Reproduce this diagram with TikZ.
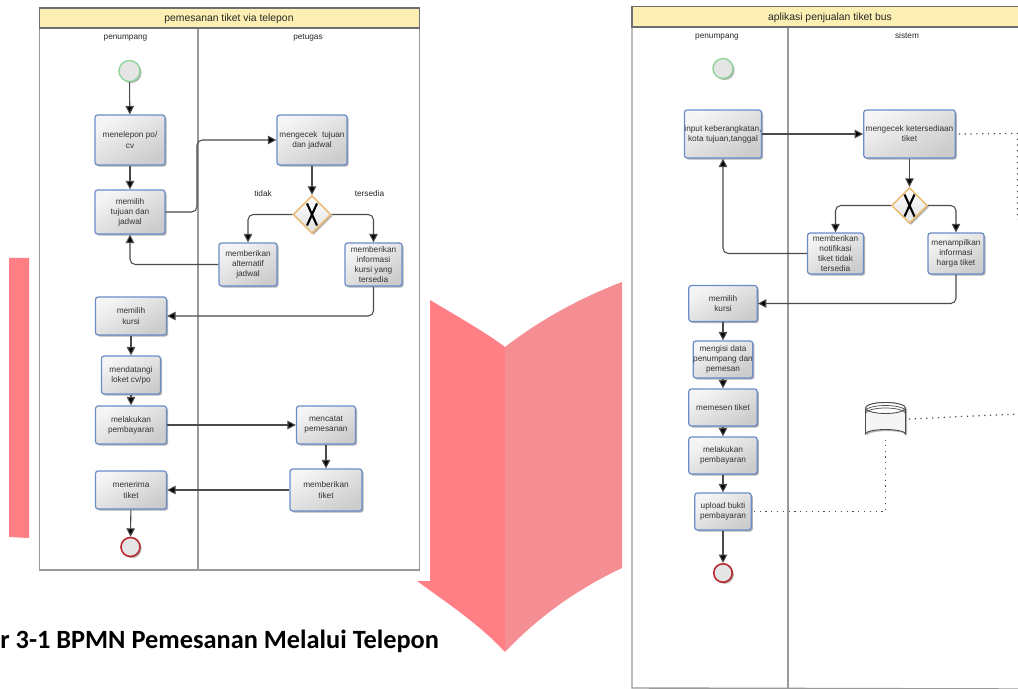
\documentclass[tikz,border=0pt]{standalone}
\usepackage{fontspec}
\setmainfont{Liberation Sans}
\newfontfamily\captionfont{Carlito}
\usetikzlibrary{arrows.meta,shapes.geometric,shadows}
\definecolor{bandyellow}{HTML}{FCEFB4}
\definecolor{lanegray}{HTML}{9A9A9A}
\definecolor{taskblue}{HTML}{6C8CC9}
\definecolor{gateorange}{HTML}{E9B86C}
\definecolor{startgreen}{HTML}{8FD49A}
\definecolor{endred}{HTML}{B8282C}
\definecolor{flowgray}{HTML}{4A4A4A}
\definecolor{pinkleft}{HTML}{FF7F85}
\definecolor{pinkright}{HTML}{F58E92}
\tikzset{
	lane/.style = {draw = lanegray, line width = 0.8pt},
	band/.style = {draw = flowgray!80, fill = bandyellow, line width = 0.6pt},
	heading/.style = {font = \fontsize{5.9}{7}\selectfont, text = black!85, inner sep = 0},
	lanename/.style = {font = \fontsize{4.7}{6}\selectfont, text = black!85, inner sep = 0, text height = 3.5pt, text depth = 1pt},
	softshadow/.style = {drop shadow = {shadow xshift = 0.9pt, shadow yshift = -0.9pt, opacity = 0.3, fill = black}},
	taskbox/.style = {draw = taskblue, line width = 0.7pt, rounded corners = 1.5pt, top color = white!96!black, bottom color = black!20, shading angle = 30, softshadow, align = center, inner sep = 0, text = black!80, font = \fontsize{4.7}{5.75}\selectfont},
	gate/.style = {diamond, draw = gateorange, line width = 0.8pt, top color = white, bottom color = black!12, softshadow, inner sep = 0, minimum width = 0.76cm, minimum height = 0.76cm},
	startevent/.style = {circle, draw = startgreen, line width = 0.8pt, fill = black!10, softshadow, inner sep = 0},
	endevent/.style = {circle, draw = endred, line width = 0.9pt, fill = black!10, softshadow, inner sep = 0},
	flow/.style = {draw = flowgray, line width = 0.6pt, rounded corners = 3pt, -{Triangle[length = 4.8pt, width = 4.8pt, fill = black]}},
	assoc/.style = {draw = black!70, line width = 0.7pt, dash pattern = on 0.7pt off 2.6pt},
	marker/.style = {line width = 1.2pt, black}
}
\begin{document}
\begin{tikzpicture}[x = 0.02cm, y = -0.02cm]
	\useasboundingbox (0, 0) rectangle (1018, 689);
	% pink book behind the figures
	\fill[pinkleft] (9, 258) -- (29, 258) -- (29, 538) -- (9, 537) -- cycle;
	\fill[pinkleft] (430, 300) .. controls (460, 318) and (485, 332) .. (505, 347) -- (505, 652) .. controls (480, 625) and (450, 605) .. (417, 581) -- cycle;
	\fill[pinkright] (505, 347) .. controls (540, 320) and (580, 298) .. (622, 282) -- (622, 568) .. controls (575, 590) and (535, 620) .. (505, 652) -- cycle;
	\fill[white] (30, 0) rectangle (430, 581);

	% first figure
	\draw[lane] (39.5, 8) rectangle (419.5, 570);
	\draw[lane] (198, 28) -- (198, 570);
	\draw[band] (39.5, 8) rectangle (419.5, 28);
	\node[heading] (titleA) at (229, 19) {pemesanan tiket via telepon};
	\node[lanename] (laneAa) at (125.5, 37.5) {penumpang};
	\node[lanename] (laneAb) at (308, 37.5) {petugas};
	\node[lanename] (tidak) at (263, 194.5) {tidak};
	\node[lanename] (tersedia) at (369.5, 194.5) {tersedia};

	\node[startevent, minimum size = 0.42cm] (startA) at (129.5, 71) {};
	\node[taskbox, minimum width = 1.4cm, minimum height = 1cm] (telepon) at (130, 140) {menelepon po/\\cv};
	\node[taskbox, minimum width = 1.4cm, minimum height = 0.88cm] (tujuan) at (130, 212) {memilih\\tujuan dan\\jadwal};
	\node[taskbox, minimum width = 1.4cm, minimum height = 1cm] (cekA) at (312, 140) {mengecek\ \ tujuan\\dan jadwal};
	\node[gate] (gateA) at (312, 214.5) {};
	\node[taskbox, minimum width = 1.16cm, minimum height = 0.86cm] (alternatif) at (248, 264.5) {memberikan\\alternatif\\jadwal};
	\node[taskbox, minimum width = 1.14cm, minimum height = 0.86cm] (informasi) at (373.5, 264.5) {memberikan\\informasi\\kursi yang\\tersedia};
	\node[taskbox, minimum width = 1.42cm, minimum height = 0.76cm] (kursiA) at (131, 316) {memilih\\kursi};
	\node[taskbox, minimum width = 1.18cm, minimum height = 0.76cm] (loket) at (131, 375) {mendatangi\\loket cv/po};
	\node[taskbox, minimum width = 1.42cm, minimum height = 0.76cm] (bayarA) at (131, 425) {melakukan\\pembayaran};
	\node[taskbox, minimum width = 1.18cm, minimum height = 0.76cm] (catat) at (326, 425) {mencatat\\pemesanan};
	\node[taskbox, minimum width = 1.44cm, minimum height = 0.84cm] (beriTiket) at (326, 490) {memberikan\\tiket};
	\node[taskbox, minimum width = 1.42cm, minimum height = 0.76cm] (terima) at (131, 490) {menerima\\tiket};
	\node[endevent, minimum size = 0.38cm] (endA) at (130.5, 547) {};
	\coordinate (bendA) at (197, 140);

	\draw[flow] (startA) -- (telepon);
	\draw[flow] (telepon) -- (tujuan);
	\draw[flow] (tujuan.east) -| (bendA) -- (cekA.west);
	\draw[flow] (cekA) -- (gateA);
	\draw[flow] (gateA.west) -| (alternatif.north);
	\draw[flow] (gateA.east) -| (informasi.north);
	\draw[flow] (alternatif.west) -| (tujuan.south);
	\draw[flow] (informasi.south) |- (kursiA.east);
	\draw[flow] (kursiA) -- (loket);
	\draw[flow] (loket) -- (bayarA);
	\draw[flow] (bayarA) -- (catat);
	\draw[flow] (catat) -- (beriTiket);
	\draw[flow] (beriTiket) -- (terima);
	\draw[flow] (terima) -- (endA);
	\draw[marker] (gateA) +(-5, -11) -- +(5, 11) +(5, -11) -- +(-5, 11);

	\node[font = \captionfont\bfseries\fontsize{15}{18}\selectfont, inner sep = 0, anchor = base west] (captionA) at (0, 648) {r 3-1 BPMN Pemesanan Melalui Telepon};

	% second figure
	\draw[lane] (1018, 689) -- (632, 688) -- (632, 7) -- (1018, 7);
	\draw[lane] (788, 27) -- (788, 689);
	\draw[band] (1019, 7) -- (632, 7) -- (632, 27) -- (1019, 27);
	\fill[bandyellow] (632.5, 7.5) rectangle (1018, 26.5);
	\node[heading] (titleB) at (830, 18) {aplikasi penjualan tiket bus};
	\node[lanename] (laneBa) at (717, 36) {penumpang};
	\node[lanename] (laneBb) at (907, 36) {sistem};

	\node[startevent, minimum size = 0.4cm] (startB) at (723, 68.5) {};
	\node[taskbox, minimum width = 1.37cm, minimum height = 0.96cm] (input) at (723, 134) {input keberangkatan,\\kota tujuan,tanggal};
	\node[taskbox, minimum width = 1.83cm, minimum height = 0.96cm] (cekB) at (909.5, 134) {mengecek ketersediaan\\tiket};
	\node[gate, minimum width = 0.72cm, minimum height = 0.72cm] (gateB) at (909.5, 205.5) {};
	\node[taskbox, minimum width = 1.12cm, minimum height = 0.82cm] (notif) at (835.5, 253.5) {memberikan\\notifikasi\\tiket tidak\\tersedia};
	\node[taskbox, minimum width = 1.12cm, minimum height = 0.82cm] (harga) at (956, 253.5) {menampilkan\\informasi\\harga tiket};
	\node[taskbox, minimum width = 1.37cm, minimum height = 0.72cm] (kursiB) at (723, 303.5) {memilih\\kursi};
	\node[taskbox, minimum width = 1.13cm, minimum height = 0.74cm] (data) at (723, 359.5) {mengisi data\\penumpang dan\\pemesan};
	\node[taskbox, minimum width = 1.37cm, minimum height = 0.74cm] (pesan) at (723, 407.5) {memesen tiket};
	\node[taskbox, minimum width = 1.37cm, minimum height = 0.74cm] (bayarB) at (723, 455.5) {melakukan\\pembayaran};
	\node[taskbox, minimum width = 1.13cm, minimum height = 0.74cm] (upload) at (723, 511.5) {upload bukti\\pembayaran};
	\node[endevent, minimum size = 0.37cm] (endB) at (723, 573) {};
	\node[minimum width = 0.8cm, minimum height = 0.73cm, inner sep = 0] (dbase) at (885.5, 421) {};
	\coordinate (cornerA) at (1017.5, 133.5);
	\coordinate (cornerB) at (1017.5, 220);
	\coordinate (cornerC) at (1017.5, 414);

	\draw[flow] (input) -- (cekB);
	\draw[flow] (cekB) -- (gateB);
	\draw[flow] (gateB.west) -| (notif.north);
	\draw[flow] (gateB.east) -| (harga.north);
	\draw[flow] (notif.west) -| (input.south);
	\draw[flow] (harga.south) |- (kursiB.east);
	\draw[flow] (kursiB) -- (data);
	\draw[flow] (data) -- (pesan);
	\draw[flow] (pesan) -- (bayarB);
	\draw[flow] (bayarB) -- (upload);
	\draw[flow] (upload) -- (endB);
	\draw[marker] (gateB) +(-5, -11) -- +(5, 11) +(5, -11) -- +(-5, 11);

	% data store
	\draw[fill = white!96!black, draw = black!70, line width = 0.5pt, softshadow] (865.5, 408) -- (865.5, 434) arc[start angle = 180, end angle = 360, x radius = 20, y radius = 4.5] -- (905.5, 408) arc[start angle = 0, end angle = -180, x radius = 20, y radius = 5.5] -- cycle;
	\draw[fill = white, draw = black!70, line width = 0.5pt] (885.5, 408) ellipse [x radius = 20, y radius = 5.5];
	\draw[draw = black!70, line width = 0.4pt] (865.5, 411) arc[start angle = 180, end angle = 360, x radius = 20, y radius = 5.5];
	\draw[draw = black!70, line width = 0.4pt] (865.5, 413.5) arc[start angle = 180, end angle = 360, x radius = 20, y radius = 5.5];

	\draw[assoc] (cekB.east) ++(3, 0) -- (cornerA) -- (cornerB);
	\draw[assoc] (dbase.east) ++(3, -2) -- (cornerC);
	\draw[assoc] (upload.east) ++(2, 0) -| (dbase.south);
\end{tikzpicture}
\end{document}
